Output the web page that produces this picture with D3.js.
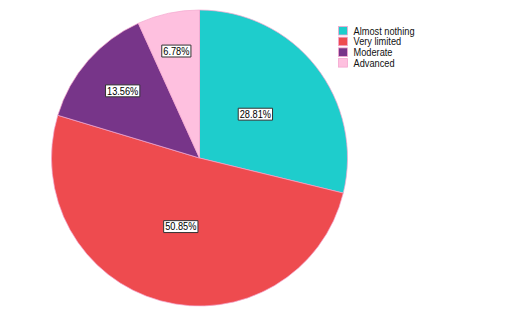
<!DOCTYPE html>
<html>
<head>
<meta charset="utf-8">
<script src="https://cdn.jsdelivr.net/npm/d3@7"></script>
<style>
  body { margin: 0; background: #fff; }
  text { font-family: "Liberation Sans", Arial, sans-serif; }
</style>
</head>
<body>
<div id="chart"></div>
<script>
// data
var categories = ["Almost nothing", "Very limited", "Moderate", "Advanced"];
var percents = [28.81, 50.85, 13.56, 6.78];
var colours = ["#1ecdcc", "#ee4b4f", "#773589", "#fec0df"];

var width = 517, height = 318;
var cx = 199.5, cy = 158, radius = 148;
var squeeze = 0.84; // the original font is a narrow one

var svg = d3.select("#chart").append("svg")
    .attr("width", width)
    .attr("height", height);

var data = categories.map(function(c, i) {
  return {name: c, value: percents[i], colour: colours[i]};
});

var pie = d3.pie()
    .sort(null)
    .value(function(d) { return d.value; });

var arc = d3.arc()
    .innerRadius(0)
    .outerRadius(radius);

var arcs = pie(data);

var g = svg.append("g")
    .attr("transform", "translate(" + cx + "," + cy + ")");

g.selectAll("path.slice")
  .data(arcs)
  .enter()
  .append("path")
    .attr("class", "slice")
    .attr("d", arc)
    .attr("fill", function(d) { return d.data.colour; })
    .attr("stroke", "#f4a6cf")
    .attr("stroke-width", 0.7);

// big slices get the label half way out, thin ones further out
function labelPos(d) {
  var share = (d.endAngle - d.startAngle) / (2 * Math.PI);
  var r = share < 0.2 ? radius * (0.79 - 0.74 * share) : radius * 0.48;
  var mid = (d.startAngle + d.endAngle) / 2;
  return [Math.sin(mid) * r, -Math.cos(mid) * r];
}

var labels = g.selectAll("g.lab")
  .data(arcs)
  .enter()
  .append("g")
    .attr("class", "lab")
    .attr("transform", function(d) { return "translate(" + labelPos(d) + ") scale(" + squeeze + ",1)"; });

labels.append("text")
    .attr("text-anchor", "middle")
    .attr("dy", "0.35em")
    .attr("font-size", 11)
    .attr("fill", "#000")
    .text(function(d) { return d.data.value.toFixed(2) + "%"; });

labels.each(function() {
  var grp = d3.select(this);
  var bb = grp.select("text").node().getBBox();
  grp.insert("rect", "text")
    .attr("x", bb.x - 1.5 / squeeze)
    .attr("y", bb.y)
    .attr("width", bb.width + 3 / squeeze)
    .attr("height", bb.height)
    .attr("fill", "#fff")
    .attr("stroke", "#333")
    .attr("stroke-width", 1)
    .attr("vector-effect", "non-scaling-stroke");
});

// legend
var legend = svg.append("g")
    .attr("transform", "translate(338,26)");

var item = legend.selectAll("g")
  .data(data)
  .enter()
  .append("g")
    .attr("transform", function(d, i) { return "translate(0," + i * 10.7 + ")"; });

item.append("rect")
    .attr("x", 0.5)
    .attr("y", 0.5)
    .attr("width", 9)
    .attr("height", 8.5)
    .attr("fill", function(d) { return d.colour; })
    .attr("stroke", "#f4a6cf")
    .attr("stroke-width", 0.8);

item.append("text")
    .attr("transform", "translate(15.5,4.8) scale(" + squeeze + ",1)")
    .attr("dy", "0.35em")
    .attr("font-size", 11)
    .attr("fill", "#111")
    .text(function(d) { return d.name; });
</script>
</body>
</html>
